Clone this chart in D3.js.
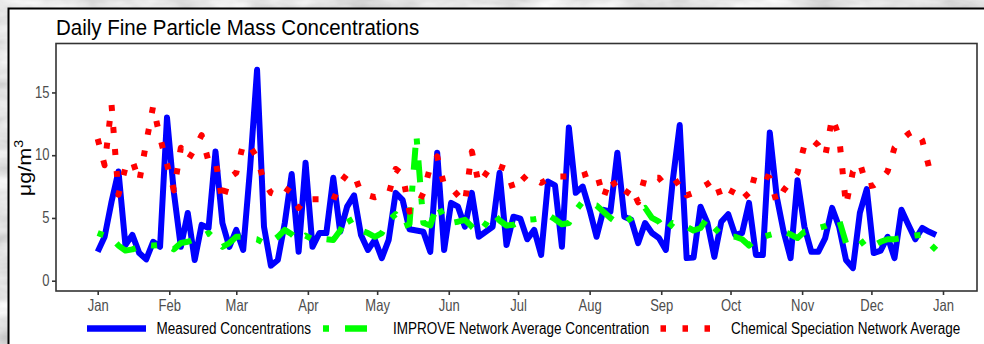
<!DOCTYPE html>
<html>
<head>
<meta charset="utf-8">
<script src="https://cdn.jsdelivr.net/npm/d3@7"></script>
<style>
  html, body { margin: 0; padding: 0; background: #c4c4c4; }
  svg { display: block; font-family: "Liberation Sans", Arial, sans-serif; }
</style>
</head>
<body>
<div id="chart"></div>
<script>
// samples every 3 days starting Jan 1
const startDay = Date.UTC(2016, 0, 1);
const stepDays = 3;

const measured = [2.3, 3.5, 6.3, 8.7, 2.85, 3.65, 2.2, 1.7, 3.1, 2.7, 13.0, 7.0, 2.7, 5.4, 1.65, 4.45, 4.2, 10.3, 4.6, 2.7,
  4.05, 2.45, 9.0, 16.8, 4.3, 1.2, 1.65, 4.6, 8.5, 2.3, 9.4, 2.7, 3.8, 3.8, 8.2, 3.9, 5.9, 6.8, 3.65, 2.45,
  3.25, 1.8, 3.25, 7.0, 6.45, 4.1, 4.0, 3.9, 2.3, 10.2, 2.45, 6.2, 5.9, 4.3, 7.0, 3.5, 3.9, 4.3, 8.6, 2.85,
  5.1, 4.95, 3.3, 4.05, 2.05, 7.9, 7.6, 2.7, 12.2, 7.0, 7.5, 5.65, 3.5, 5.65, 5.5, 10.2, 5.1, 4.85, 3.0, 4.6,
  3.8, 3.4, 2.45, 8.0, 12.4, 1.8, 1.85, 5.9, 4.6, 1.9, 4.7, 5.3, 3.65, 3.8, 6.2, 2.05, 2.05, 11.8, 6.7, 3.9,
  1.8, 8.0, 4.3, 2.3, 2.3, 3.4, 5.8, 4.3, 1.65, 1.0, 5.4, 7.3, 2.2, 2.4, 3.5, 1.8, 5.65, 4.45, 3.3, 4.2,
  3.9, 3.65];

const improve = [3.8, 3.6, 3.4, 2.8, 2.4, 2.5, 2.7, 2.85, 2.8, 2.85, 2.8, 2.5, 3.0, 3.1, 3.3, 3.5, 3.8, 3.3, 2.7, 3.0,
  3.5, 3.5, 3.4, 3.3, 3.0, 3.1, 3.5, 4.05, 3.7, 3.2, 3.6, 3.3, 3.3, 3.3, 3.25, 4.0, 5.2, 4.2, 4.0, 3.8,
  3.5, 3.8, 4.8, 5.3, 4.3, 4.5, 11.6, 4.6, 4.4, 6.1, 5.0, 4.6, 4.7, 4.85, 4.3, 3.8, 4.5, 5.4, 4.8, 4.4,
  4.45, 4.7, 4.85, 4.9, 5.0, 5.25, 4.9, 4.5, 4.6, 5.6, 6.3, 6.1, 6.0, 5.5, 5.0, 4.6, 4.6, 5.0, 5.5, 5.8,
  5.0, 4.7, 3.9, 4.6, 4.5, 4.3, 4.0, 4.2, 5.0, 4.2, 3.65, 3.5, 3.5, 3.3, 2.8, 3.3, 3.5, 3.65, 3.8, 3.9,
  3.7, 3.4, 3.9, 4.0, 4.2, 4.35, 4.6, 4.85, 3.0, 3.3, 3.3, 2.6, 2.8, 3.1, 3.3, 3.3, 3.4, 3.5, 3.6, 3.65,
  3.0, 2.45];

const csn = [11.3, 9.2, 14.0, 6.85, 9.0, 9.6, 7.9, 11.0, 13.9, 11.4, 9.3, 7.2, 10.6, 9.6, 10.5, 11.6, 9.5, 9.6, 6.3, 8.2,
  8.6, 10.9, 10.7, 9.8, 7.9, 7.0, 6.8, 7.4, 7.0, 5.8, 6.6, 6.5, 6.5, 6.6, 6.4, 7.8, 8.5, 8.5, 7.0, 6.8,
  6.65, 6.8, 6.9, 8.9, 8.5, 5.5, 5.8, 7.0, 9.1, 9.9, 7.6, 7.4, 6.8, 6.2, 10.3, 7.7, 8.5, 9.3, 9.1, 8.9,
  7.2, 7.9, 8.45, 8.1, 7.8, 8.1, 8.3, 8.3, 8.3, 8.25, 8.4, 8.6, 8.6, 6.6, 8.2, 7.3, 6.7, 7.5, 6.25, 8.3,
  8.2, 8.2, 7.5, 7.6, 8.0, 6.8, 7.0, 7.4, 7.7, 8.1, 6.6, 6.5, 7.6, 7.2, 6.6, 8.7, 8.4, 8.2, 6.2, 7.2,
  7.9, 8.6, 10.8, 11.3, 10.8, 9.9, 13.0, 11.5, 6.0, 8.7, 9.4, 7.5, 7.6, 8.0, 8.7, 10.6, 11.2, 11.7, 12.0, 11.2,
  9.0, null];

const yTicks = [0, 5, 10, 15];
const seriesNames = ['Measured Concentrations', 'IMPROVE Network Average Concentration', 'Chemical Speciation Network Average'];
const chartTitle = 'Daily Fine Particle Mass Concentrations';

const width = 984, height = 344;
const panel = { left: 56, right: 977, top: 43.5, bottom: 291 };

const svg = d3.select('#chart').append('svg')
  .attr('width', width)
  .attr('height', height);

// grey marble-ish backdrop
const defs = svg.append('defs');
const f = defs.append('filter').attr('id', 'marble').attr('x', 0).attr('y', 0).attr('width', '100%').attr('height', '100%');
f.append('feTurbulence').attr('type', 'fractalNoise').attr('baseFrequency', '0.015 0.04').attr('numOctaves', 4).attr('seed', 7);
f.append('feColorMatrix').attr('type', 'matrix')
  .attr('values', '0.7 0 0 0 0.42  0.7 0 0 0 0.42  0.7 0 0 0 0.42  0 0 0 0 1');
defs.append('clipPath').attr('id', 'clip').append('rect')
  .attr('x', panel.left).attr('y', panel.top)
  .attr('width', panel.right - panel.left).attr('height', panel.bottom - panel.top);

svg.append('rect').attr('width', width).attr('height', height).attr('filter', 'url(#marble)');

// white sheet with black edge
svg.append('rect').attr('x', 8).attr('y', 8).attr('width', width).attr('height', height)
  .attr('fill', '#fff');
svg.append('path').attr('d', `M8.5,${height} V8.5 H${width}`)
  .attr('fill', 'none').attr('stroke', '#000').attr('stroke-width', 2);

const dates = measured.map((_, i) => new Date(startDay + i * stepDays * 864e5));

const x = d3.scaleUtc()
  .domain([new Date(Date.UTC(2016, 0, 1)), new Date(Date.UTC(2017, 0, 1))])
  .range([97.7, 943]);

const y = d3.scaleLinear()
  .domain([-0.82, 18.9])
  .range([panel.bottom, panel.top]);

// title
svg.append('text')
  .attr('transform', `translate(${panel.left},35) scale(1,1.1)`)
  .attr('font-size', 20.5)
  .attr('fill', '#000')
  .text(chartTitle);

// lines
const plot = svg.append('g').attr('clip-path', 'url(#clip)');
const line = d3.line()
  .defined(d => d[1] != null)
  .x(d => x(d[0]))
  .y(d => y(d[1]));

const series = [
  { values: measured, color: '#0000ff', dash: null },
  { values: improve, color: '#00ff00', dash: '6,16,22,16' },
  { values: csn, color: '#ff0000', dash: '6,16' }
];

series.forEach(s => {
  plot.append('path')
    .datum(s.values.map((v, i) => [dates[i], v]))
    .attr('d', line)
    .attr('fill', 'none')
    .attr('stroke', s.color)
    .attr('stroke-width', 6)
    .attr('stroke-linejoin', 'round')
    .attr('stroke-linecap', 'butt')
    .attr('stroke-dasharray', s.dash);
});

// panel border
svg.append('rect')
  .attr('x', panel.left).attr('y', panel.top)
  .attr('width', panel.right - panel.left).attr('height', panel.bottom - panel.top)
  .attr('fill', 'none').attr('stroke', '#333').attr('stroke-width', 1.6);

// axes
const xAxis = svg.append('g')
  .attr('transform', `translate(0,${panel.bottom})`)
  .call(d3.axisBottom(x).ticks(d3.utcMonth.every(1)).tickFormat(d3.utcFormat('%b')).tickSize(4).tickSizeOuter(0));
xAxis.select('.domain').remove();
xAxis.selectAll('.tick line').attr('stroke', '#333').attr('stroke-width', 1.6);
xAxis.selectAll('.tick text')
  .attr('y', 0).attr('dy', 0)
  .attr('transform', 'translate(0,19.5) scale(1,1.22)')
  .attr('font-size', 13).attr('fill', '#4d4d4d')
  .attr('font-family', '"Liberation Sans", Arial, sans-serif');

const yAxis = svg.append('g')
  .attr('transform', `translate(${panel.left},0)`)
  .call(d3.axisLeft(y).tickValues(yTicks).tickSize(4).tickSizeOuter(0));
yAxis.select('.domain').remove();
yAxis.selectAll('.tick line').attr('stroke', '#333').attr('stroke-width', 1.6);
yAxis.selectAll('.tick text')
  .attr('x', 0).attr('dy', 0)
  .attr('transform', 'translate(-6.5,4.7) scale(1,1.22)')
  .attr('font-size', 13).attr('fill', '#4d4d4d')
  .attr('font-family', '"Liberation Sans", Arial, sans-serif');

// y label
const yl = svg.append('text')
  .attr('transform', 'translate(31,168) scale(1,1.2) rotate(-90)')
  .attr('text-anchor', 'middle')
  .attr('font-size', 18)
  .attr('fill', '#000');
yl.append('tspan').text('\u03bcg/m');
yl.append('tspan').attr('font-size', 12).attr('dy', -8).text('3');

// legend
const legY = 328.5;
const legend = svg.append('g');
const keys = [
  { x1: 87, x2: 146, tx: 156.5, color: '#0000ff', dash: null, off: 0 },
  { x1: 307, x2: 367, tx: 393, color: '#00ff00', dash: '6,16,22,16', off: 44 },
  { x1: 660.5, x2: 712, tx: 731, color: '#ff0000', dash: '5.5,16.5', off: 0 }
];
keys.forEach((k, i) => {
  legend.append('line')
    .attr('x1', k.x1).attr('x2', k.x2).attr('y1', legY).attr('y2', legY)
    .attr('stroke', k.color).attr('stroke-width', 6.5)
    .attr('stroke-dasharray', k.dash).attr('stroke-dashoffset', k.off);
  legend.append('text')
    .attr('transform', `translate(${k.tx},${legY + 5}) scale(1,1.2)`)
    .attr('font-size', 13.5).attr('fill', '#000')
    .text(seriesNames[i]);
});
</script>
</body>
</html>
